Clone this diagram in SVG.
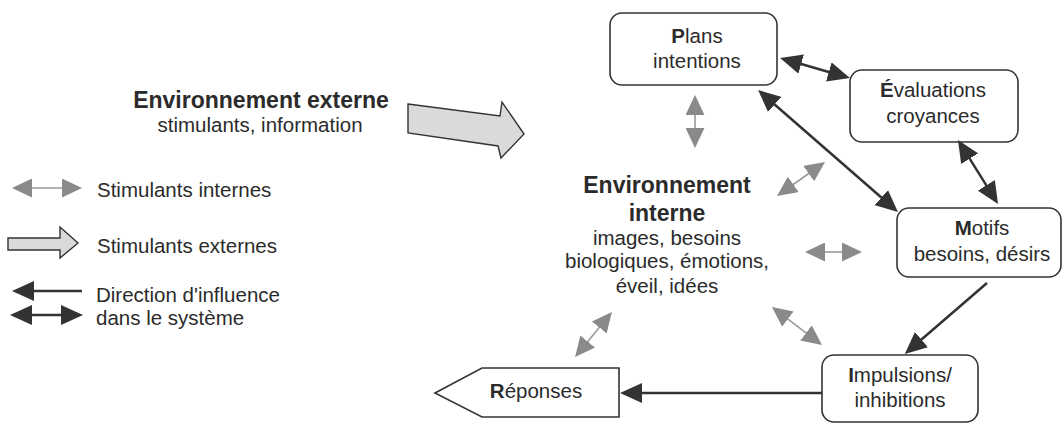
<svg xmlns="http://www.w3.org/2000/svg" width="1063" height="423" viewBox="0 0 1063 423">
  <defs>
    <!-- dark influence arrowhead: tip sits 14px past the line end -->
    <marker id="headDark" viewBox="0 0 22 20" refX="8" refY="10" markerWidth="22" markerHeight="20" markerUnits="userSpaceOnUse" orient="auto-start-reverse">
      <path d="M0,0 L22,10 L0,20 Z" fill="#333"/>
    </marker>
    <!-- grey internal-stimulus arrowhead: tip sits 13px past the line end -->
    <marker id="headGrey" viewBox="0 0 20 19" refX="7" refY="9.5" markerWidth="20" markerHeight="19" markerUnits="userSpaceOnUse" orient="auto-start-reverse">
      <path d="M0,0 L20,9.5 L0,19 Z" fill="#8a8a8a"/>
    </marker>
  </defs>
  <style>
    text { font-family: "Liberation Sans", Arial, sans-serif; fill: #2b2b2b; }
    .lbl { font-size: 20.5px; text-anchor: middle; }
    .leg { font-size: 20.5px; }
    .head { font-size: 23px; font-weight: bold; text-anchor: middle; }
    .b { font-weight: bold; }
    .box { fill: #fff; stroke: #333; stroke-width: 1.6; }
    .dark { fill: none; stroke: #333; stroke-width: 2.5; }
    .grey { fill: none; stroke: #999; stroke-width: 1.6; }
    .ext { fill: #dadada; stroke: #333; stroke-width: 1.4; stroke-linejoin: miter; }
  </style>

  <rect width="1063" height="423" fill="#fff"/>

  <!-- external environment -->
  <g id="externe">
    <text class="head" x="261" y="108">Environnement externe</text>
    <text class="lbl" x="260" y="132">stimulants, information</text>
    <polygon class="ext" points="408,104 500,116 502,102 524,134 501,158 498,146 408,133"/>
  </g>

  <!-- legend -->
  <g id="legende">
    <line class="grey" x1="25" y1="188" x2="69" y2="188" marker-start="url(#headGrey)" marker-end="url(#headGrey)"/>
    <text class="leg" x="97" y="197">Stimulants internes</text>
    <polygon class="ext" points="8,238 60,238 60,227 78,243 60,258 60,250 8,250"/>
    <text class="leg" x="97" y="253">Stimulants externes</text>
    <line class="dark" x1="82" y1="291" x2="26" y2="291" marker-end="url(#headDark)"/>
    <line class="dark" x1="24" y1="315" x2="69" y2="315" marker-start="url(#headDark)" marker-end="url(#headDark)"/>
    <text class="leg" x="96" y="302">Direction d'influence</text>
    <text class="leg" x="96" y="325">dans le système</text>
  </g>

  <!-- internal environment -->
  <g id="interne">
    <text class="head" x="667" y="193">Environnement</text>
    <text class="head" x="667" y="221">interne</text>
    <text class="lbl" x="667" y="245">images, besoins</text>
    <text class="lbl" x="667" y="268">biologiques, émotions,</text>
    <text class="lbl" x="667" y="293">éveil, idées</text>
  </g>

  <g id="plans">
    <rect class="box" x="610" y="13" width="167" height="72" rx="12"/>
    <text class="lbl" x="697" y="43"><tspan class="b">P</tspan>lans</text>
    <text class="lbl" x="697" y="68">intentions</text>
  </g>

  <g id="evaluations">
    <rect class="box" x="850" y="70" width="168" height="72" rx="12"/>
    <text class="lbl" x="933" y="97"><tspan class="b">É</tspan>valuations</text>
    <text class="lbl" x="933" y="123">croyances</text>
  </g>

  <g id="motifs">
    <rect class="box" x="897" y="208" width="164" height="69" rx="12"/>
    <text class="lbl" x="982" y="235"><tspan class="b">M</tspan>otifs</text>
    <text class="lbl" x="982" y="261">besoins, désirs</text>
  </g>

  <g id="impulsions">
    <rect class="box" x="822" y="355" width="156" height="67" rx="12"/>
    <text class="lbl" x="900" y="382"><tspan class="b">I</tspan>mpulsions/</text>
    <text class="lbl" x="900" y="407">inhibitions</text>
  </g>

  <g id="reponses">
    <polygon class="box" points="435,393 482,368 619,368 619,417 482,417"/>
    <text class="lbl" x="536" y="398"><tspan class="b">R</tspan>éponses</text>
  </g>

  <!-- connectors -->
  <g id="connecteurs">
    <line class="dark" x1="793.5" y1="61.8" x2="836.5" y2="74.2" marker-start="url(#headDark)" marker-end="url(#headDark)"/>
    <line class="dark" x1="768.6" y1="99.2" x2="887.4" y2="202.8" marker-start="url(#headDark)" marker-end="url(#headDark)"/>
    <line class="dark" x1="965.4" y1="151.9" x2="990.6" y2="192.1" marker-start="url(#headDark)" marker-end="url(#headDark)"/>
    <line class="dark" x1="987" y1="283" x2="915.4" y2="344.8" marker-end="url(#headDark)"/>
    <line class="dark" x1="822" y1="393" x2="634" y2="393" marker-end="url(#headDark)"/>

    <line class="grey" x1="695" y1="108" x2="695" y2="135" marker-start="url(#headGrey)" marker-end="url(#headGrey)"/>
    <line class="grey" x1="814.4" y1="169.5" x2="787.6" y2="188.5" marker-start="url(#headGrey)" marker-end="url(#headGrey)"/>
    <line class="grey" x1="818" y1="252" x2="849" y2="252" marker-start="url(#headGrey)" marker-end="url(#headGrey)"/>
    <line class="grey" x1="782.3" y1="314.9" x2="811.6" y2="337.1" marker-start="url(#headGrey)" marker-end="url(#headGrey)"/>
    <line class="grey" x1="603.7" y1="322" x2="583.3" y2="347" marker-start="url(#headGrey)" marker-end="url(#headGrey)"/>
  </g>
</svg>
